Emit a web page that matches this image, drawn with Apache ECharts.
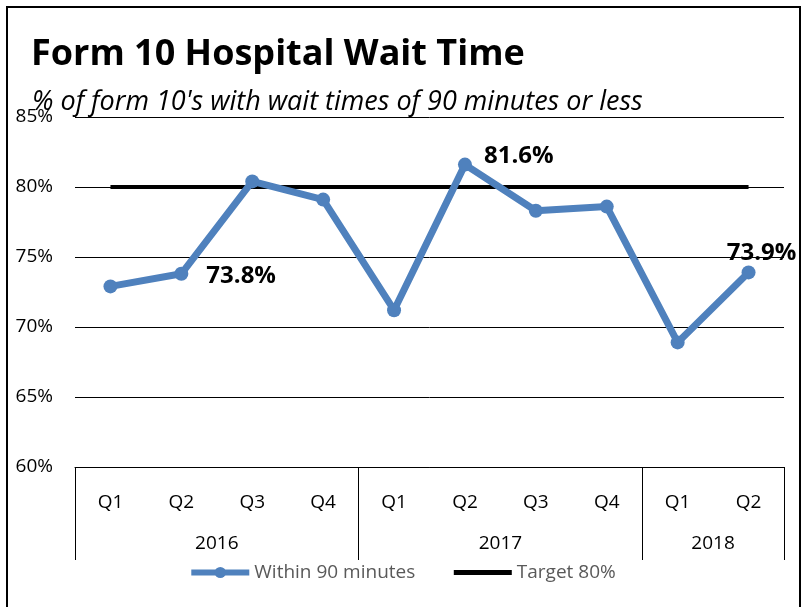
<!DOCTYPE html>
<html>
<head>
<meta charset="utf-8">
<script src="https://cdn.jsdelivr.net/npm/echarts@6/dist/echarts.min.js"></script>
<style>
  html, body { margin: 0; padding: 0; background: #fff; }
  #chart { width: 804px; height: 607px; }
</style>
</head>
<body>
<div id="chart"></div>
<script>
// quarters and year groups
var quarters = ['Q1', 'Q2', 'Q3', 'Q4', 'Q1', 'Q2', 'Q3', 'Q4', 'Q1', 'Q2'];
var years = ['2016', '2017', '2018'];
var yearCenters = [2, 6, 9];      // position on the 0..10 group axis
var yearBounds = [0, 4, 8, 10];

// % of form 10's within 90 minutes
var within90 = [72.9, 73.8, 80.4, 79.1, 71.2, 81.6, 78.3, 78.6, 68.9, 73.9];
var target = [80, 80, 80, 80, 80, 80, 80, 80, 80, 80];
var labelled = [1, 5, 9];

var blue = '#4F81BD';
var font = 'Open Sans';

var chart = echarts.init(document.getElementById('chart'));

var lineData = within90.map(function (v, i) {
    var item = { value: v };
    if (labelled.indexOf(i) >= 0) {
        var lbl = {
            show: true,
            formatter: v.toFixed(1) + '%',
            fontFamily: font,
            fontWeight: 'bold',
            fontSize: 24,
            color: '#000'
        };
        if (i === 1) { lbl.position = 'right'; lbl.distance = 18; lbl.offset = [0, 2]; }
        if (i === 5) { lbl.position = 'right'; lbl.distance = 12; lbl.offset = [0, -8]; }
        if (i === 9) { lbl.position = 'top'; lbl.distance = 0; lbl.offset = [13, 0]; }
        item.label = lbl;
    }
    return item;
});

var option = {
    animation: false,
    title: [
        {
            text: 'Form 10 Hospital Wait Time',
            left: 26,
            top: 32,
            textStyle: { fontFamily: font, fontWeight: 'bold', fontSize: 36, color: '#000' }
        },
        {
            text: "% of form 10's with wait times of 90 minutes or less",
            left: 27,
            top: 84,
            textStyle: { fontFamily: font, fontStyle: 'italic', fontWeight: 'normal', fontSize: 27, color: '#000' }
        }
    ],
    graphic: [{
        type: 'rect',
        shape: { x: 7, y: 7, width: 793, height: 640 },
        style: { fill: 'none', stroke: '#000', lineWidth: 2 },
        silent: true,
        z: -1
    }],
    legend: {
        bottom: 20,
        left: 'center',
        itemWidth: 58,
        itemHeight: 14,
        itemGap: 36,
        textStyle: { fontFamily: font, fontSize: 19, color: '#595959' },
        data: [
            { name: 'Within 90 minutes', lineStyle: { width: 6 } },
            { name: 'Target 80%', lineStyle: { width: 5 }, itemStyle: { opacity: 0 } }
        ]
    },
    grid: { left: 75, right: 20, top: 117, bottom: 140 },
    xAxis: [
        {
            type: 'category',
            data: quarters,
            boundaryGap: true,
            axisLine: { lineStyle: { color: '#000', width: 1 } },
            axisTick: { show: false },
            axisLabel: { fontFamily: font, fontSize: 19, color: '#000', margin: 26 }
        },
        {
            type: 'value',
            min: 0,
            max: 10,
            position: 'bottom',
            axisLine: { show: false },
            splitLine: { show: false },
            axisTick: {
                show: true,
                length: 93,
                customValues: yearBounds,
                lineStyle: { color: '#000', width: 1 }
            },
            axisLabel: {
                fontFamily: font,
                fontSize: 19,
                color: '#000',
                margin: 67,
                customValues: yearCenters,
                formatter: function (v) {
                    return years[yearCenters.indexOf(v)];
                }
            }
        }
    ],
    yAxis: {
        type: 'value',
        min: 60,
        max: 85,
        interval: 5,
        axisLine: { show: false },
        axisTick: { show: false },
        splitLine: { lineStyle: { color: '#000', width: 1 } },
        axisLabel: {
            fontFamily: font,
            fontSize: 19,
            color: '#000',
            margin: 22,
            formatter: '{value}%'
        }
    },
    series: [
        {
            name: 'Within 90 minutes',
            type: 'line',
            xAxisIndex: 0,
            data: lineData,
            symbol: 'circle',
            symbolSize: 14,
            lineStyle: { color: blue, width: 7 },
            itemStyle: { color: blue },
            label: { show: false },
            z: 3
        },
        {
            name: 'Target 80%',
            type: 'line',
            xAxisIndex: 0,
            data: target,
            symbol: 'none',
            lineStyle: { color: '#000', width: 4 },
            itemStyle: { color: '#000' },
            z: 2
        }
    ]
};

chart.setOption(option);
</script>
</body>
</html>
